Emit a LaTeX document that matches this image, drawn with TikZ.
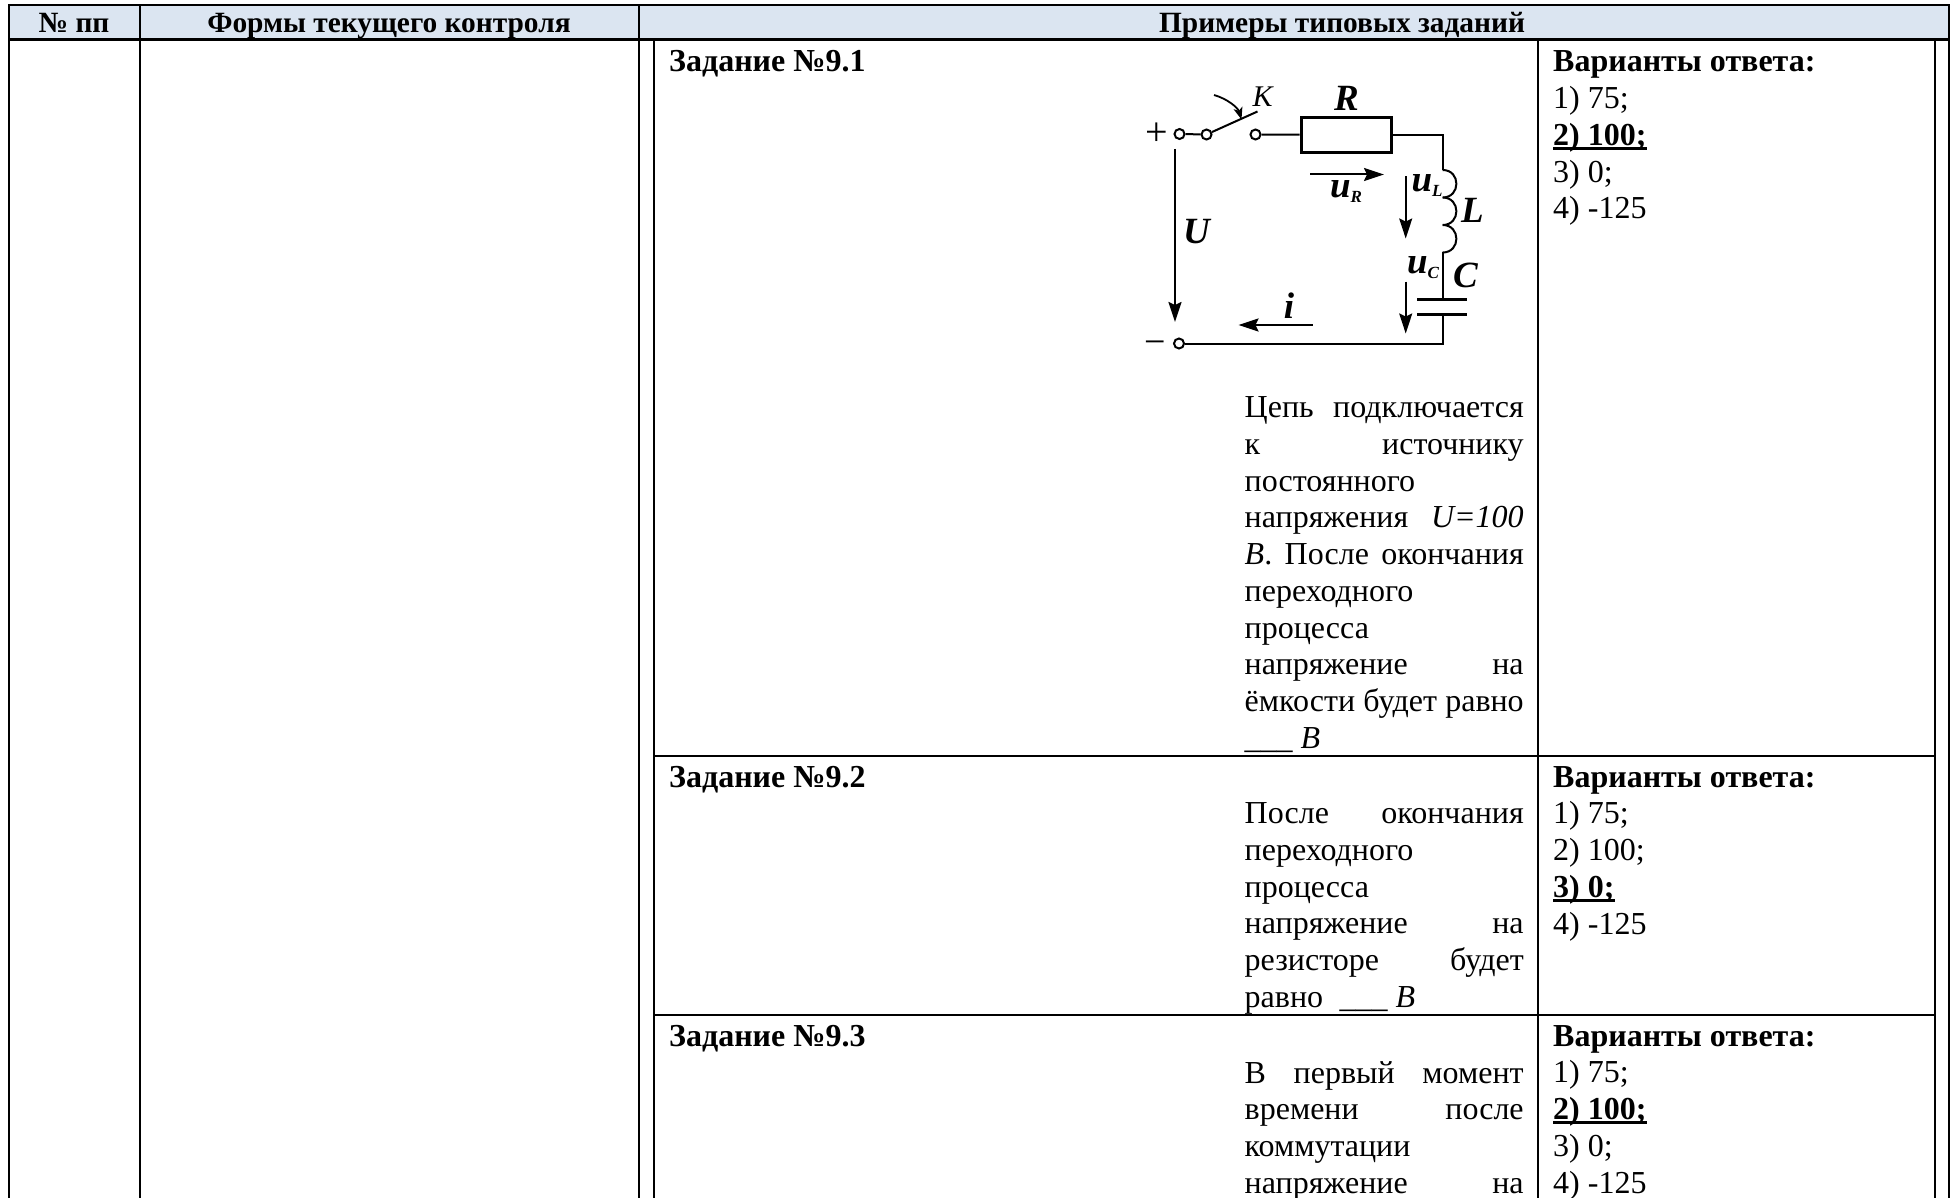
\documentclass[tikz,border=0pt]{standalone}
\usepackage{fontspec}
\setmainfont{Liberation Serif}
\usetikzlibrary{arrows.meta}
\definecolor{headblue}{HTML}{DBE5F1}
\newcommand{\jline}[1]{\makebox[279pt][s]{#1}}
\newcommand{\rightans}[1]{\sbox0{\textbf{#1}}\usebox0\llap{\rule[-4.5pt]{\wd0}{2.6pt}}}
\newcommand{\usub}[1]{{\bfseries\itshape\fontsize{37}{37}\selectfont u\raisebox{-5pt}{\fontsize{17}{17}\selectfont #1}}}
\tikzset{
  txt/.style={anchor=base west, inner sep=0pt, font=\fontsize{32}{36.7}\selectfont},
  boldtxt/.style={txt, font=\fontsize{32}{36.7}\selectfont\bfseries},
  headtxt/.style={anchor=base, inner sep=0pt, font=\fontsize{29.4}{34}\selectfont\bfseries},
  term/.style={circle, draw, fill=white, line width=2pt, minimum size=10pt, inner sep=0pt},
  wire/.style={line width=2pt},
  plate/.style={line width=3pt},
  varrow/.style={line width=2pt, -{Stealth[length=20pt, width=13pt, inset=3pt]}},
  sym/.style={inner sep=0pt, font=\fontsize{37}{37}\selectfont\bfseries\itshape},
}
\begin{document}
\begin{tikzpicture}[x=1pt, y=-1pt]
  \useasboundingbox (0, 0) rectangle (1953, 1198);
  \fill[headblue] (9, 5) rectangle (1949, 40);
  % table rules
  \draw[line width=2.4pt] (9, 1198) -- (9, 5) -- (1949, 5) -- (1949, 1198);
  \draw[line width=3pt] (9, 40) -- (1949, 40);
  \draw[line width=2pt] (139.5, 5) -- (139.5, 1198);
  \draw[line width=2pt] (639, 5) -- (639, 1198);
  \draw[line width=2.2pt] (654, 40) -- (654, 1198);
  \draw[line width=2.4pt] (1935, 40) -- (1935, 1198);
  \draw[line width=2pt] (1538, 40) -- (1538, 1198);
  \draw[line width=2pt] (654, 756) -- (1935, 756);
  \draw[line width=2pt] (654, 1015) -- (1935, 1015);
  \node[headtxt] (h1) at (74, 33) {№ пп};
  \node[headtxt] (h2) at (389, 33) {Формы текущего контроля};
  \node[headtxt] (h3) at (1342, 33) {Примеры типовых заданий};
  % task titles and answers
  \foreach \y/\n in {72/1, 787/2, 1046/3} {
    \node[boldtxt] (task\n) at (669, \y) {Задание №9.\n};
    \node[boldtxt] (vars\n) at (1553, \y) {Варианты ответа:};
  }
  \foreach \t [count=\i from 1] in {1) 75;, \rightans{2) 100;}, 3) 0;, 4) -125}
    \node[txt] (a1\i) at (1553, 72+36.7*\i) {\t};
  \foreach \t [count=\i from 1] in {1) 75;, 2) 100;, \rightans{3) 0;}, 4) -125}
    \node[txt] (a2\i) at (1553, 787+36.75*\i) {\t};
  \foreach \t [count=\i from 1] in {1) 75;, \rightans{2) 100;}, 3) 0;, 4) -125}
    \node[txt] (a3\i) at (1553, 1046+36.75*\i) {\t};
  % task texts
  \foreach \t [count=\i from 0] in {\jline{Цепь подключается}, \jline{к источнику}, постоянного,
      \jline{напряжения \textit{U=100}}, \jline{\textit{В}. После окончания}, переходного, процесса,
      \jline{напряжение на}, \jline{ёмкости будет равно}, \_\_\_ \textit{В}}
    \node[txt] (q1\i) at (1244.5, 417.5+36.75*\i) {\t};
  \foreach \t [count=\i from 0] in {\jline{После окончания}, переходного, процесса,
      \jline{напряжение на}, \jline{резисторе будет}, равно\hspace{8.5pt} \_\_\_ \textit{В}}
    \node[txt] (q2\i) at (1244.5, 823.5+36.8*\i) {\t};
  \foreach \t [count=\i from 0] in {\jline{В первый момент}, \jline{времени после}, коммутации, \jline{напряжение на}}
    \node[txt] (q3\i) at (1244.5, 1083+36.75*\i) {\t};
  % circuit
  \node[term] (tplus) at (1179.5, 134) {};
  \node[term] (tsw) at (1206.5, 134.5) {};
  \node[term] (tout) at (1255.5, 134.5) {};
  \node[term] (tminus) at (1179, 343.5) {};
  \node[draw, line width=3pt, minimum width=90pt, minimum height=35pt, inner sep=0pt] (res) at (1346, 134.7) {};
  \coordinate (blade) at (1257.5, 111.5);
  \coordinate (push) at (1214, 95);
  \coordinate (pushend) at (1241.5, 119.5);
  \coordinate (ind1) at (1442.7, 170);
  \coordinate (ind2) at (1442.7, 197.5);
  \coordinate (ind3) at (1442.7, 225);
  \coordinate (ind4) at (1442.7, 252.5);
  \coordinate (cap1) at (1442.7, 299);
  \coordinate (cap2) at (1442.7, 314.5);
  \coordinate (corner) at (1442.7, 343.5);
  \draw[wire] (tplus) -- (tsw);
  \draw[wire] (tsw) -- (blade);
  \draw[wire] (tout) -- (res);
  \draw[wire] (res.east) -| (ind1);
  \path[wire] (ind1) edge[out=0, in=0, looseness=1.7] (ind2);
  \path[wire] (ind2) edge[out=0, in=0, looseness=1.7] (ind3);
  \path[wire] (ind3) edge[out=0, in=0, looseness=1.7] (ind4);
  \draw[wire] (ind4) -- (cap1);
  \draw[wire] (cap2) -- (corner) -- (tminus);
  \draw[plate] (1417.3, 299) -- (cap1) -- (1467.3, 299);
  \draw[plate] (1417.3, 314.5) -- (cap2) -- (1467.3, 314.5);
  \draw[line width=1.8pt, -{Stealth[length=12pt, width=9pt, inset=3pt]}] (push) .. controls (1228, 99) and (1238, 108) .. (pushend);
  % voltage and current arrows
  \coordinate (uhead) at (1175, 149);
  \coordinate (utail) at (1175, 322);
  \coordinate (urhead) at (1310, 174.5);
  \coordinate (urtail) at (1384, 174.5);
  \coordinate (ulhead) at (1405.7, 176.5);
  \coordinate (ultail) at (1405.7, 238.5);
  \coordinate (uchead) at (1405.7, 281.5);
  \coordinate (uctail) at (1405.7, 333.5);
  \coordinate (ihead) at (1312.5, 325);
  \coordinate (itail) at (1238.5, 325);
  \draw[varrow] (uhead) -- (utail);
  \draw[varrow] (urhead) -- (urtail);
  \draw[varrow] (ulhead) -- (ultail);
  \draw[varrow] (uchead) -- (uctail);
  \draw[varrow] (ihead) -- (itail);
  % circuit labels
  \node[inner sep=0pt, font=\fontsize{40}{40}\selectfont] (lplus) at (1157, 134.5) {+};
  \node[inner sep=0pt, font=\fontsize{38}{38}\selectfont] (lminus) at (1155, 348) {−};
  \node[inner sep=0pt, font=\fontsize{30}{30}\selectfont\itshape] (lk) at (1262.5, 97) {K};
  \node[sym] (lr) at (1346.5, 98) {R};
  \node[sym] (lu) at (1196.5, 232) {U};
  \node[sym] (ll) at (1472.5, 210) {L};
  \node[sym] (lc) at (1465.5, 275) {C};
  \node[sym] (li) at (1289, 306) {i};
  \node[inner sep=0pt] (lur) at (1346, 192) {\usub{R}};
  \node[inner sep=0pt] (lul) at (1427, 186) {\usub{L}};
  \node[inner sep=0pt] (luc) at (1423, 268) {\usub{C}};
\end{tikzpicture}
\end{document}
